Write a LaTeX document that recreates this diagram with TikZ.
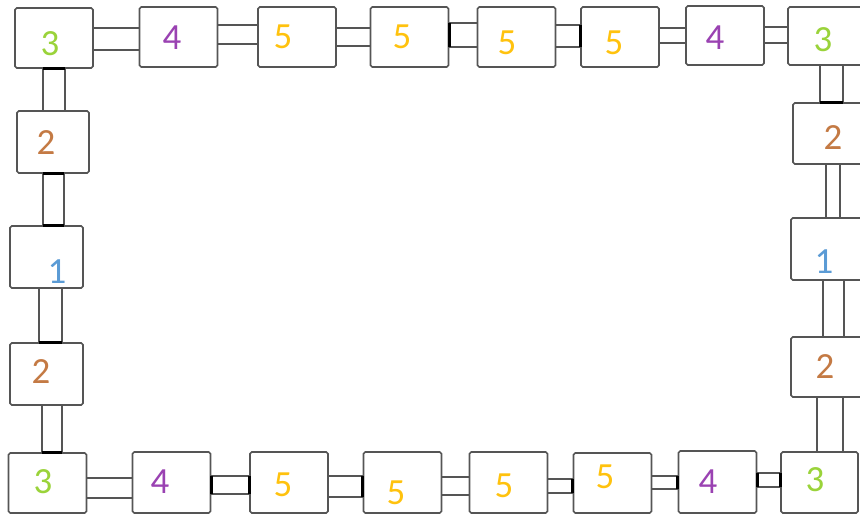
\documentclass[tikz,border=0pt]{standalone}
\usepackage{fontspec}
\setmainfont{Carlito}

\definecolor{cone}{HTML}{5B9BD5}
\definecolor{ctwo}{HTML}{C47A44}
\definecolor{cthree}{HTML}{9AD33A}
\definecolor{cfour}{HTML}{9A42B2}
\definecolor{cfive}{HTML}{FFC20E}
\definecolor{edge}{HTML}{555555}

\tikzset{
    cell/.style={draw=edge, line width=0.9pt, rounded corners=1pt, fill=white,
        minimum width=1.56cm, minimum height=1.2cm, inner sep=0pt},
    cellL/.style={cell, minimum width=1.46cm, minimum height=1.24cm},
    num/.style={inner sep=0pt, font=\fontsize{21}{25}\selectfont},
    n1/.style={num, text=cone},
    n2/.style={num, text=ctwo},
    n3/.style={num, text=cthree},
    n4/.style={num, text=cfour},
    n5/.style={num, text=cfive},
    bar/.style={draw=edge, line width=0.9pt},
    joint/.style={draw=black, line width=1.6pt}
}

% 左右两框之间的横连杆
\newcommand{\hlink}[4]{%
    \draw[bar] (#1.east |- 0,#3) -- (#2.west |- 0,#3);
    \draw[bar] (#1.east |- 0,#4) -- (#2.west |- 0,#4);}
% 上下两框之间的竖连杆
\newcommand{\vlink}[4]{%
    \draw[bar] (#3,0 |- #1.south) -- (#3,0 |- #2.north);
    \draw[bar] (#4,0 |- #1.south) -- (#4,0 |- #2.north);}
% 连杆端部加粗
\newcommand{\hjoint}[3]{\draw[joint] (#1 |- 0,#2) -- (#1 |- 0,#3);}
\newcommand{\vjoint}[3]{\draw[joint] (#2,0 |- #1) -- (#3,0 |- #1);}

\begin{document}
\begin{tikzpicture}[x=0.02cm, y=-0.02cm]
    \useasboundingbox (0,0) rectangle (860,515);

    % 上排
    \node[cell] (t1) at (54,38) {};
    \node[cell] (t2) at (178.5,37) {};
    \node[cell] (t3) at (297,37) {};
    \node[cell] (t4) at (409.5,37) {};
    \node[cell] (t5) at (516.5,37) {};
    \node[cell] (t6) at (620,37) {};
    \node[cell, minimum height=1.18cm] (t7) at (725,35.5) {};
    \node[cell, minimum height=1.16cm] (t8) at (827,36) {};

    % 右列
    \node[cell, minimum height=1.22cm] (r1) at (832,133.5) {};
    \node[cell, minimum height=1.24cm] (r2) at (830,249) {};
    \node[cell] (r3) at (830,367) {};

    % 下排
    \node[cell] (b1) at (47.5,483) {};
    \node[cell, minimum height=1.22cm] (b2) at (171.5,482.5) {};
    \node[cell, minimum height=1.22cm] (b3) at (289,482.5) {};
    \node[cell, minimum height=1.22cm] (b4) at (402.5,482.5) {};
    \node[cell, minimum height=1.22cm] (b5) at (508.5,482.5) {};
    \node[cell] (b6) at (612.5,483) {};
    \node[cell, minimum height=1.24cm] (b7) at (717.5,482) {};
    \node[cell, minimum width=1.54cm, minimum height=1.22cm] (b8) at (819.5,482.5) {};

    % 左列
    \node[cellL, minimum width=1.44cm] (l1) at (53,142) {};
    \node[cellL] (l2) at (46.5,257) {};
    \node[cellL] (l3) at (46.5,374) {};

    % 数字
    \node[n3] (t1n) at (50,44) {3};
    \node[n4] (t2n) at (172,38) {4};
    \node[n5] (t3n) at (283,37) {5};
    \node[n5] (t4n) at (402,37) {5};
    \node[n5] (t5n) at (507,43) {5};
    \node[n5] (t6n) at (614,43) {5};
    \node[n4] (t7n) at (715,38) {4};
    \node[n3] (t8n) at (823,40) {3};
    \node[n2] (r1n) at (833,138) {2};
    \node[n1] (r2n) at (824,262) {1};
    \node[n2] (r3n) at (825,367) {2};
    \node[n3] (b8n) at (815,480) {3};
    \node[n4] (b7n) at (708,482) {4};
    \node[n5] (b6n) at (605,477) {5};
    \node[n5] (b5n) at (504,486) {5};
    \node[n5] (b4n) at (396,493) {5};
    \node[n5] (b3n) at (283,485) {5};
    \node[n4] (b2n) at (160,482) {4};
    \node[n3] (b1n) at (43,482) {3};
    \node[n2] (l3n) at (41,372) {2};
    \node[n1] (l2n) at (57,272) {1};
    \node[n2] (l1n) at (46,143) {2};

    % 连杆
    \hlink{t1}{t2}{28}{50}
    \hlink{t2}{t3}{25}{44}
    \hlink{t3}{t4}{28}{46}
    \hlink{t4}{t5}{23}{47}
    \hlink{t5}{t6}{25}{47}
    \hlink{t6}{t7}{28}{43}
    \hlink{t7}{t8}{27}{43}
    \vlink{t8}{r1}{820}{843}
    \vlink{r1}{r2}{826}{840}
    \vlink{r2}{r3}{823}{844}
    \vlink{r3}{b8}{817}{843}
    \hlink{b7}{b8}{473}{487}
    \hlink{b6}{b7}{476}{489}
    \hlink{b5}{b6}{479}{493}
    \hlink{b4}{b5}{477}{495}
    \hlink{b3}{b4}{476}{497}
    \hlink{b2}{b3}{476}{494}
    \hlink{b1}{b2}{478}{498}
    \vlink{l3}{b1}{42}{62}
    \vlink{l2}{l3}{39}{62}
    \vlink{l1}{l2}{43}{64}
    \vlink{t1}{l1}{43}{65}

    % 加粗的端部
    \hjoint{t4.east}{23}{47}
    \hjoint{t6.west}{25}{47}
    \vjoint{r1.north}{820}{843}
    \hjoint{b7.east}{473}{487}
    \hjoint{b8.west}{473}{487}
    \hjoint{b7.west}{476}{489}
    \hjoint{b6.west}{479}{493}
    \hjoint{b4.west}{476}{497}
    \hjoint{b2.east}{476}{494}
    \hjoint{b3.west}{476}{494}
    \vjoint{b1.north}{42}{62}
    \vjoint{l3.north}{39}{62}
    \vjoint{l1.south}{43}{64}
    \vjoint{l2.north}{43}{64}
    \vjoint{t1.south}{43}{65}
\end{tikzpicture}
\end{document}
